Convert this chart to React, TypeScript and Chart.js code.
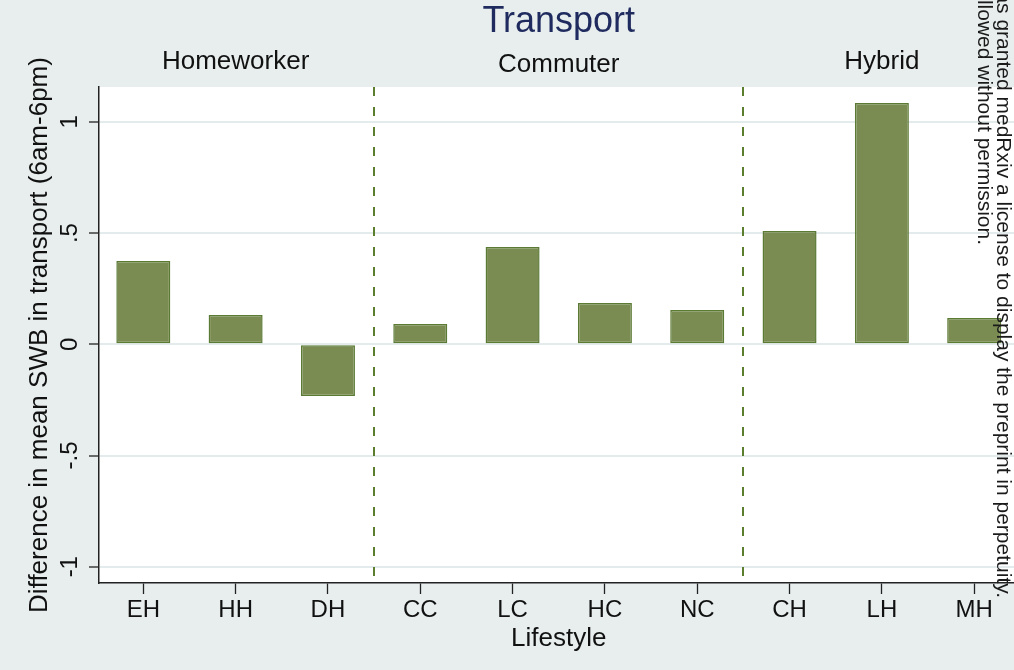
import React, { useEffect, useRef } from "react";
import { Chart, registerables } from "chart.js";

Chart.register(...registerables);

// ---------- data ----------
const categories = ["EH", "HH", "DH", "CC", "LC", "HC", "NC", "CH", "LH", "MH"];
const swbDiff = [0.375, 0.132, -0.232, 0.091, 0.437, 0.186, 0.154, 0.51, 1.085, 0.118];
const groups = ["Homeworker", "Commuter", "Hybrid"];
const groupCenters = [2, 5.5, 9];
const groupDividers = [3.5, 7.5];
const yTickValues = [-1, -0.5, 0, 0.5, 1];
const yTickLabels = ["-1", "-.5", "0", ".5", "1"];
const chartTitle = "Transport";
const xTitle = "Lifestyle";
const yTitle = "Difference in mean SWB in transport (6am-6pm)";
const noticeLines = [
  "is the author/funder, who has granted medRxiv a license to display the preprint in perpetuity.",
  "All rights reserved. No reuse allowed without permission.",
];

// ---------- styles ----------
const FONT = "'Liberation Sans', Arial, Helvetica, sans-serif";
const BG = "#E8EEEE";
const BAR_FILL = "#7A8C52";
const BAR_EDGE = "#5B7A34";
const DIVIDER = "#5A7D2E";
const GRID = "#E4EBEC";
const AXIS = "#222222";
const TITLE_COLOR = "#1F2A5E";
const CANVAS_W = 1030;
const CANVAS_H = 670;

const decorPlugin = {
  id: "decor",
  beforeDraw(chart: any) {
    const { ctx, width, height, chartArea: a } = chart;
    ctx.save();
    ctx.fillStyle = BG;
    ctx.fillRect(0, 0, width, height);
    ctx.fillStyle = "#ffffff";
    ctx.fillRect(a.left, a.top, a.right - a.left, a.bottom - a.top);
    ctx.restore();
  },
  beforeDatasetsDraw(chart: any) {
    const { ctx, chartArea: a } = chart;
    const xs = chart.scales.x;
    ctx.save();
    ctx.strokeStyle = DIVIDER;
    ctx.lineWidth = 2;
    ctx.setLineDash([9, 11]);
    groupDividers.forEach((v) => {
      const px = Math.round(xs.getPixelForValue(v));
      ctx.beginPath();
      ctx.moveTo(px, a.top);
      ctx.lineTo(px, a.bottom);
      ctx.stroke();
    });
    ctx.restore();
  },
  afterDraw(chart: any) {
    const { ctx, chartArea: a } = chart;
    const xs = chart.scales.x;
    ctx.save();
    // main title
    ctx.fillStyle = TITLE_COLOR;
    ctx.font = `36px ${FONT}`;
    ctx.textAlign = "center";
    ctx.textBaseline = "alphabetic";
    ctx.fillText(chartTitle, (a.left + a.right) / 2, 32);
    // group labels
    const groupBaselines = [68.5, 71.5, 68.5];
    ctx.fillStyle = "#111";
    ctx.font = `26px ${FONT}`;
    groups.forEach((g, i) => {
      ctx.fillText(g, xs.getPixelForValue(groupCenters[i]), groupBaselines[i]);
    });
    // rotated notice at right edge
    ctx.font = `21px ${FONT}`;
    ctx.fillStyle = "#1a1a1a";
    ctx.textAlign = "right";
    const noticePos = [
      [997, 598],
      [978, 245],
    ];
    noticeLines.forEach((line, i) => {
      ctx.save();
      ctx.translate(noticePos[i][0], noticePos[i][1]);
      ctx.rotate(Math.PI / 2);
      ctx.fillText(line, 0, 0);
      ctx.restore();
    });
    ctx.restore();
  },
};

export default function App() {
  const ref = useRef<HTMLCanvasElement | null>(null);

  useEffect(() => {
    document.body.style.margin = "0";
    document.body.style.overflow = "hidden";
    const canvas = ref.current;
    if (!canvas) return;
    const chart = new Chart(canvas, {
      type: "bar",
      data: {
        datasets: [
          {
            data: swbDiff.map((v, i) => ({ x: i + 1, y: v })),
            backgroundColor: BAR_FILL,
            borderColor: BAR_EDGE,
            borderWidth: 1.5,
            borderSkipped: false,
            categoryPercentage: 1,
            barPercentage: 0.585,
          } as any,
        ],
      },
      options: {
        animation: false,
        responsive: false,
        devicePixelRatio: 1,
        layout: { padding: { top: 87, right: 11.5, left: 0, bottom: 0 } },
        plugins: {
          legend: { display: false },
          tooltip: { enabled: false },
          title: { display: false },
        },
        scales: {
          x: {
            type: "linear",
            offset: false,
            min: 0.52,
            max: 10.48,
            afterBuildTicks: (s: any) => {
              s.ticks = categories.map((_, i) => ({ value: i + 1 }));
            },
            afterFit: (s: any) => {
              s.height = 87;
            },
            ticks: {
              autoSkip: false,
              maxRotation: 0,
              minRotation: 0,
              padding: 2,
              color: "#111",
              font: { family: FONT, size: 24 },
              callback: (v: any) => categories[Math.round(Number(v)) - 1] ?? "",
            },
            grid: {
              display: true,
              offset: false,
              drawOnChartArea: false,
              drawTicks: true,
              tickLength: 11,
              tickColor: AXIS,
              tickWidth: 1.3,
            },
            border: { display: true, color: AXIS, width: 1.5 },
            title: {
              display: true,
              text: xTitle,
              color: "#111",
              font: { family: FONT, size: 26 },
              padding: { top: 0, bottom: 16 },
            },
          },
          y: {
            type: "linear",
            min: -1.0733,
            max: 1.157,
            afterBuildTicks: (s: any) => {
              s.ticks = yTickValues.map((v) => ({ value: v }));
            },
            afterFit: (s: any) => {
              s.width = 99;
            },
            ticks: {
              autoSkip: false,
              minRotation: 90,
              maxRotation: 90,
              crossAlign: "center",
              padding: 5,
              color: "#111",
              font: { family: FONT, size: 24 },
              callback: (v: any) => {
                const idx = yTickValues.findIndex((t) => Math.abs(t - Number(v)) < 1e-9);
                return idx >= 0 ? yTickLabels[idx] : "";
              },
            },
            grid: {
              display: true,
              drawOnChartArea: true,
              color: GRID,
              lineWidth: 2,
              drawTicks: true,
              tickLength: 10,
              tickColor: AXIS,
              tickWidth: 1.3,
            },
            border: { display: true, color: AXIS, width: 1.5 },
            title: {
              display: true,
              text: yTitle,
              color: "#111",
              font: { family: FONT, size: 26 },
              padding: { top: 24, bottom: 0 },
            },
          },
        },
      },
      plugins: [decorPlugin],
    });
    return () => chart.destroy();
  }, []);

  return (
    <div
      style={{
        position: "fixed",
        top: 0,
        left: 0,
        width: 1014,
        height: 670,
        overflow: "hidden",
        background: BG,
      }}
    >
      <canvas
        ref={ref}
        width={CANVAS_W}
        height={CANVAS_H}
        style={{ width: CANVAS_W, height: CANVAS_H, display: "block" }}
      />
    </div>
  );
}
